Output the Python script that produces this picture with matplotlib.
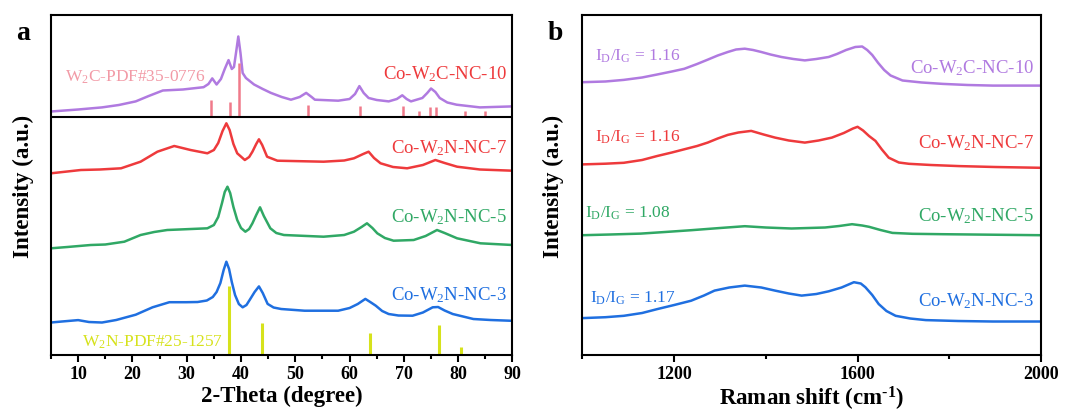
import numpy as np
import matplotlib
matplotlib.use("Agg")
import matplotlib.pyplot as plt

plt.rcParams['font.family'] = ['Liberation Serif', 'DejaVu Serif']
plt.rcParams['mathtext.fontset'] = 'custom'
plt.rcParams['mathtext.rm'] = 'Liberation Serif'
plt.rcParams['mathtext.it'] = 'Liberation Serif:italic'
plt.rcParams['mathtext.bf'] = 'Liberation Serif:bold'

# ---- XRD (panel a), intensity in arbitrary offset units ----
xrd_blue_x = [5, 7, 10, 12, 14.4, 17, 20.6, 23.7, 26.8, 29.9, 32, 33.7, 34.8, 35.5, 36.2, 36.8, 37.3, 37.8,
              38.3, 38.9, 39.6, 40.3, 41.0, 41.7, 42.5, 43.3, 44.0, 44.9, 46, 47.4, 51.7, 57.9, 60, 61.5,
              62.9, 63.8, 64.8, 66, 67.2, 69, 71.6, 73.5, 75.3, 76.3, 77.5, 79, 82.8, 86, 90]
xrd_blue_y = [32.5, 33.5, 34.9, 33, 32.5, 35, 40.3, 47.7, 52.8, 52.8, 53, 54.5, 58, 63, 72, 85, 93.3, 86,
              73, 60, 51, 47.7, 50, 56, 63, 68.6, 62, 51.1, 47.5, 46, 44.3, 44.3, 47, 51,
              56.1, 53, 49.4, 44, 41, 39.5, 39.3, 42.5, 47.7, 48, 44.5, 41, 36, 35, 34.2]

xrd_green_x = [5, 8, 12.3, 15, 18.5, 21.5, 24, 26.4, 29.5, 33.8, 35.0, 35.8, 36.5, 37.0, 37.5, 38.0, 38.6,
               39.3, 40.0, 40.8, 41.5, 42.1, 42.8, 43.5, 44.2, 45.4, 46.5, 47.9, 55.2, 59, 60.8, 62.2,
               63.2, 64.2, 65.1, 66.5, 68.1, 71.8, 74, 76.1, 77.5, 79.8, 84.1, 90]
xrd_green_y = [106.7, 108, 110, 110.5, 113.3, 120, 123, 125, 125.7, 126.7, 130, 138, 152, 163, 168.3, 162, 148,
               135, 127, 123.3, 126, 131.7, 140, 147.7, 139, 126.7, 122, 120, 118.3, 120, 123.3, 128,
               131.7, 127, 121.7, 117, 114.3, 115, 119, 125, 122, 116.7, 111.7, 110]

xrd_red_x = [5, 10.5, 14, 17.9, 21.5, 24.6, 27.7, 30.7, 33.8, 35.0, 35.8, 36.6, 37.3, 37.9, 38.6, 39.3,
             40.7, 41.5, 42.1, 42.8, 43.3, 43.9, 44.8, 46.7, 55.2, 59, 60.8, 62.5, 63.5, 64.5, 65.7, 68,
             70.6, 73.5, 75.8, 77.5, 79.8, 84, 90]
xrd_red_y = [181.7, 185, 185.5, 186.7, 193.3, 203.3, 209, 205, 201.7, 205, 212, 224, 231.7, 225, 211, 201.7,
             195, 198, 203.3, 211, 215.7, 210, 198.3, 194.3, 193.3, 194.5, 196.7, 201, 203.3, 197, 191.7, 188,
             186.7, 190, 195, 192, 188.3, 185.5, 184.3]

xrd_purple_x = [5, 10, 14.4, 17.5, 20.6, 23, 25.6, 29.3, 33.1, 34.0, 34.7, 35.5, 36.3, 37.0, 37.7, 38.3,
                38.7, 39.1, 39.5, 39.9, 40.3, 40.9, 42.4, 44, 45.5, 47.5, 49.2, 50.8, 52.0, 53.0, 53.6,
                57.9, 60.0, 61.0, 61.8, 62.6, 63.5, 65, 67.2, 68.7, 69.7, 70.5, 71.3, 73.4, 74.3, 75.0,
                75.8, 76.6, 78, 79.7, 84, 90]
xrd_purple_y = [243.5, 245.5, 247.6, 250, 253.6, 259, 264.5, 265.5, 267.8, 271, 276.6, 270.5, 276, 286, 294.9, 286,
                288, 303, 318.5, 302, 282, 277, 270.5, 266, 262.1, 258, 255.3, 258, 262.1, 258, 255.3,
                254.3, 256, 261, 268.9, 262, 257, 255, 253.6, 256, 259.7, 256, 253.6, 257, 262, 266.5,
                263, 257, 252.5, 250.3, 247.6, 248.6]

w2n_pos = [37.7, 43.8, 63.8, 76.5, 80.6]
w2n_height = [68.6, 32.2, 22.4, 29.8, 8.2]

w2c_pos = [34.5, 38.0, 39.6, 52.3, 61.9, 69.8, 72.8, 74.9, 75.9, 81.3, 85.0]
w2c_height = [17.2, 15.5, 54, 12.8, 11.8, 11.8, 6, 10.7, 10, 6, 6.6]
w2c_base = 237.5

# ---- Raman (panel b) ----
ram_purple_x = [1000, 1050, 1090, 1130, 1163, 1195, 1222, 1250, 1273, 1295, 1317, 1335, 1354, 1372, 1390,
                1410, 1434, 1460, 1485, 1510, 1537, 1555, 1575, 1595, 1610, 1621, 1632, 1645, 1658, 1672,
                1698, 1740, 1786, 1840, 1895, 2000]
ram_purple_y = [272.8, 273.5, 275.1, 277.5, 280.5, 283.5, 286.2, 291, 295.3, 299.5, 303, 305.5, 306.3, 305, 303,
                300.5, 298, 296, 294.6, 296, 298, 301, 305, 308, 308.5, 305, 300, 292, 285, 279.5,
                274.5, 272.5, 271.1, 270, 269.4, 269.4]

ram_red_x = [1000, 1050, 1090, 1130, 1163, 1195, 1222, 1250, 1273, 1295, 1317, 1340, 1368, 1395, 1420, 1450,
             1485, 1515, 1544, 1570, 1590, 1600, 1612, 1625, 1639, 1653, 1668, 1690, 1712, 1760, 1822, 1900, 2000]
ram_red_y = [190.6, 191.3, 192.2, 195, 199, 202.5, 205.7, 209, 212.4, 216.5, 220.1, 222.5, 224.1, 220.5, 217.4,
             214.5, 212.4, 214.5, 217.4, 222, 226.5, 228.2, 224.5, 219, 214.1, 205.5, 197.3, 192.5, 191.2, 190,
             188.9, 188, 187.2]

ram_green_x = [1000, 1060, 1127, 1180, 1237, 1300, 1354, 1400, 1456, 1529, 1560, 1588, 1610, 1625, 1650, 1676,
               1720, 1786, 2000]
ram_green_y = [119.8, 120.5, 121.4, 123, 124.8, 127, 128.8, 127.5, 126.5, 127.5, 129, 130.8, 129.5, 128.2, 125,
               122.1, 121.2, 120.8, 119.8]

ram_blue_x = [1000, 1050, 1090, 1130, 1163, 1200, 1237, 1265, 1288, 1320, 1354, 1390, 1420, 1450, 1478, 1510,
              1537, 1565, 1592, 1607, 1617, 1632, 1646, 1663, 1683, 1715, 1749, 1820, 1895, 2000]
ram_blue_y = [36.9, 37.8, 39.2, 42, 45.9, 50, 54.3, 59.5, 64.4, 67.5, 69.4, 67.5, 64.4, 61.5, 59.4, 61,
              63.7, 67.5, 72.8, 71.5, 67.8, 60, 51, 44, 39.2, 36.5, 34.9, 34, 33.5, 33.5]

samples = ['Co-W$_2$N-NC-3', 'Co-W$_2$N-NC-5', 'Co-W$_2$N-NC-7', 'Co-W$_2$C-NC-10']
ratios = ['1.17', '1.08', '1.16', '1.16']

c_purple = '#b07ae0'
c_red = '#ee3a3c'
c_green = '#30a865'
c_blue = '#1f6fe0'
c_yellow = '#d6e21c'
c_pink = '#f07a8a'
c_pink_lbl = '#f29aa6'

fig = plt.figure(figsize=(10.67, 4.13), dpi=100)
ax1 = fig.add_axes([0.0478, 0.1404, 0.4325, 0.8221])
ax2 = fig.add_axes([0.5459, 0.1404, 0.4297, 0.8221])

lw = 1.8
ax1.plot(xrd_blue_x, xrd_blue_y, color=c_blue, lw=lw)
ax1.plot(xrd_green_x, xrd_green_y, color=c_green, lw=lw)
ax1.plot(xrd_red_x, xrd_red_y, color=c_red, lw=lw)
ax1.plot(xrd_purple_x, xrd_purple_y, color=c_purple, lw=lw)
ax1.vlines(w2n_pos, 0, w2n_height, color=c_yellow, lw=2.2)
ax1.vlines(w2c_pos, w2c_base, np.array(w2c_height) + w2c_base, color=c_pink, lw=1.8)
ax1.axhline(w2c_base, color='black', lw=1.5)

fs = 13.5
ax1.text(89.0, 276, samples[3], color=c_red, fontsize=fs, ha='right', va='baseline')
ax1.text(89.0, 202, samples[2], color=c_red, fontsize=fs, ha='right', va='baseline')
ax1.text(89.0, 133, samples[1], color=c_green, fontsize=fs, ha='right', va='baseline')
ax1.text(89.0, 55, samples[0], color=c_blue, fontsize=fs, ha='right', va='baseline')
ax1.text(7.5, 273, 'W$_2$C-PDF#35-0776', color=c_pink_lbl, fontsize=12.5, ha='left', va='baseline')
ax1.text(10.7, 8, 'W$_2$N-PDF#25-1257', color=c_yellow, fontsize=12.5, ha='left', va='baseline')

ax1.set_xlim(5, 90)
ax1.set_ylim(0, 339.5)
ax1.set_xticks(np.arange(10, 91, 10))
ax1.set_xticks(np.arange(5, 91, 10), minor=True)
ax1.set_xlabel('2-Theta (degree)', fontsize=16.5, fontweight='bold', labelpad=2)

ax2.plot(ram_blue_x, ram_blue_y, color=c_blue, lw=lw)
ax2.plot(ram_green_x, ram_green_y, color=c_green, lw=lw)
ax2.plot(ram_red_x, ram_red_y, color=c_red, lw=lw)
ax2.plot(ram_purple_x, ram_purple_y, color=c_purple, lw=lw)

ax2.text(1985, 282, samples[3], color=c_purple, fontsize=fs, ha='right', va='baseline')
ax2.text(1985, 206.4, samples[2], color=c_red, fontsize=fs, ha='right', va='baseline')
ax2.text(1985, 134, samples[1], color=c_green, fontsize=fs, ha='right', va='baseline')
ax2.text(1985, 48.3, samples[0], color=c_blue, fontsize=fs, ha='right', va='baseline')
idig = 'I$_\\mathrm{D}$/I$_\\mathrm{G}$ = '
ax2.text(1027, 294.6, idig + ratios[3], color=c_purple, fontsize=12.5, ha='left', va='baseline')
ax2.text(1027, 213, idig + ratios[2], color=c_red, fontsize=12.5, ha='left', va='baseline')
ax2.text(1005, 137.5, idig + ratios[1], color=c_green, fontsize=12.5, ha='left', va='baseline')
ax2.text(1016, 52, idig + ratios[0], color=c_blue, fontsize=12.5, ha='left', va='baseline')

ax2.set_xlim(1000, 2000)
ax2.set_ylim(0, 339.5)
ax2.set_xticks([1200, 1600, 2000])
ax2.set_xticks([1000, 1400, 1800], minor=True)
ax2.set_xlabel('Raman shift (cm$^{\\mathbf{\u2010}\\mathbf{1}}$)', fontsize=16.5, fontweight='bold', labelpad=1)

for ax in (ax1, ax2):
    ax.set_yticks([])
    for s in ax.spines.values():
        s.set_linewidth(1.5)
    ax.tick_params(axis='x', which='major', direction='out', length=5, width=1.5, labelsize=13, pad=3)
    ax.tick_params(axis='x', which='minor', direction='out', length=3, width=1.5)
    for lb in ax.get_xticklabels():
        lb.set_fontweight('bold')

fig.text(23 / 1067, 1 - 186 / 413, 'Intensity (a.u.)', rotation=90, fontsize=16.5, fontweight='bold',
         ha='center', va='center')
fig.text(553 / 1067, 1 - 186 / 413, 'Intensity (a.u.)', rotation=90, fontsize=16.5, fontweight='bold',
         ha='center', va='center')
fig.text(23 / 1067, 1 - 34 / 413, 'a', fontsize=20, fontweight='bold', ha='center', va='center')
fig.text(555 / 1067, 1 - 34 / 413, 'b', fontsize=20, fontweight='bold', ha='center', va='center')

fig.savefig('out.png', dpi=100)
